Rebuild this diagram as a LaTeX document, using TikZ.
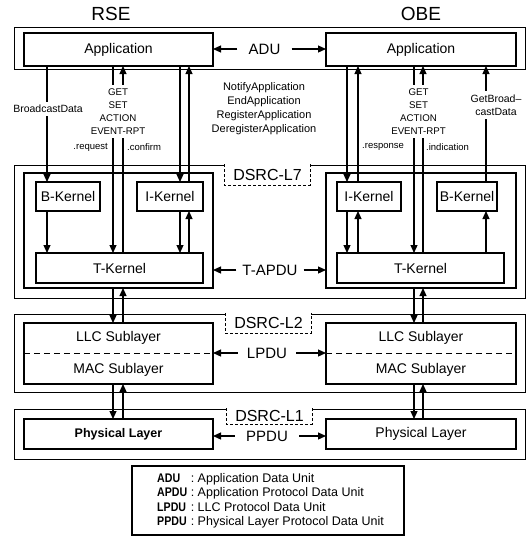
\documentclass[tikz,border=0pt]{standalone}
\usepackage{fontspec}
\usepackage{graphicx}
\setmainfont{Liberation Sans}
\usetikzlibrary{arrows.meta,calc}
\newcommand\myfs[2]{\fontsize{#1}{#2}\selectfont}
\newcommand\myabbr[1]{\scalebox{0.85}[1]{\bfseries #1}}
\tikzset{
  frame/.style={draw, line width=0.8pt, inner sep=0pt, outer sep=0pt},
  box/.style={draw, line width=1.6pt, fill=white, inner sep=0pt, outer sep=0pt, font=\myfs{14}{16}},
  txt/.style={inner sep=0pt, font=\myfs{14}{16}},
  arr/.style={line width=1.2pt, -{Triangle[length=8pt,width=7pt]}},
  lbl/.style={fill=white, inner xsep=2pt, inner ysep=4pt, align=center, font=\myfs{9.7}{13}},
  sm/.style={inner sep=0pt, font=\myfs{9.5}{11}},
  mid/.style={inner sep=0pt, align=center, font=\myfs{11}{14}},
  pdu/.style={inner ysep=0pt, font=\myfs{15}{17}},
  title/.style={inner sep=0pt, font=\myfs{19}{21}},
  dsrc/.style={fill=white, anchor=north, inner sep=0pt, minimum width=85pt, font=\myfs{16}{18}},
  dsrcb/.style={line width=0.7pt, dash pattern=on 3pt off 2pt},
  sep/.style={line width=1.4pt, dash pattern=on 6pt off 4pt}
}
\begin{document}
\begin{tikzpicture}[x=1pt,y=-1pt]
\useasboundingbox (0,0) rectangle (529,539);

% titles
\node[title] (rse) at (111,14) {RSE};
\node[title] (obe) at (421,14) {OBE};

% outer frames
\node[frame, minimum width=511pt, minimum height=42pt] (fApp) at (269.5,48) {};
\node[frame, minimum width=511pt, minimum height=133pt] (fL7) at (269.5,231.5) {};
\node[frame, minimum width=511pt, minimum height=78pt] (fL2) at (269.5,353) {};
\node[frame, minimum width=511pt, minimum height=50pt] (fL1) at (269.5,434) {};

% application boxes
\node[box, minimum width=189pt, minimum height=33pt] (appL) at (118.5,49.5) {Application};
\node[box, minimum width=190pt, minimum height=33pt] (appR) at (421,49.5) {Application};

% DSRC-L7
\node[box, minimum width=189pt, minimum height=115pt] (l7L) at (118.5,230.5) {};
\node[box, minimum width=190pt, minimum height=115pt] (l7R) at (421,230.5) {};
\node[box, minimum width=64pt, minimum height=29pt] (bkL) at (68,196.5) {B-Kernel};
\node[box, minimum width=66pt, minimum height=29pt] (ikL) at (170,196.5) {I-Kernel};
\node[box, minimum width=167pt, minimum height=30pt] (tkL) at (119.5,268) {T-Kernel};
\node[box, minimum width=64pt, minimum height=29pt] (ikR) at (369,196.5) {I-Kernel};
\node[box, minimum width=60pt, minimum height=29pt] (bkR) at (467,196.5) {B-Kernel};
\node[box, minimum width=167pt, minimum height=30pt] (tkR) at (420.5,268) {T-Kernel};

% DSRC-L2
\node[box, minimum width=189pt, minimum height=61pt] (l2L) at (118.5,353.5) {};
\node[box, minimum width=190pt, minimum height=61pt] (l2R) at (421,353.5) {};
\draw[sep] (l2L.west) -- (l2L.east);
\draw[sep] (l2R.west) -- (l2R.east);
\node[txt] (llcL) at (118.5,338) {LLC Sublayer};
\node[txt] (macL) at (118.5,370) {MAC Sublayer};
\node[txt] (llcR) at (421,338) {LLC Sublayer};
\node[txt] (macR) at (421,370) {MAC Sublayer};

% DSRC-L1
\node[box, minimum width=189pt, minimum height=30pt, font=\bfseries\myfs{12.5}{14}] (phL) at (118.5,434) {Physical Layer};
\node[box, minimum width=190pt, minimum height=30pt] (phR) at (421,434) {Physical Layer};

% DSRC labels
\node[dsrc, minimum height=21pt] (d7) at (267.5,164) {DSRC-L7};
\draw[dsrcb] (d7.north west) -- (d7.south west) -- (d7.south east) -- (d7.north east);
\node[dsrc, minimum height=20pt] (d2) at (268.5,313) {DSRC-L2};
\draw[dsrcb] (d2.north west) -- (d2.south west) -- (d2.south east) -- (d2.north east);
\node[dsrc, minimum height=16pt] (d1) at (269.5,408) {DSRC-L1};
\draw[dsrcb] (d1.north west) -- (d1.south west) -- (d1.south east) -- (d1.north east);

% peer PDUs
\node[pdu, inner xsep=11pt] (adu) at (264.5,49) {ADU};
\draw[arr] (adu.west) -- (appL.east |- adu.west);
\draw[arr] (adu.east) -- (appR.west |- adu.east);
\node[pdu, inner xsep=6pt] (tapdu) at (270,270) {T-APDU};
\draw[arr] (tapdu.west) -- (l7L.east |- tapdu.west);
\draw[arr] (tapdu.east) -- (l7R.west |- tapdu.east);
\node[pdu, inner xsep=9pt] (lpdu) at (267,353) {LPDU};
\draw[arr] (lpdu.west) -- (l2L.east |- lpdu.west);
\draw[arr] (lpdu.east) -- (l2R.west |- lpdu.east);
\node[pdu, inner xsep=11pt] (ppdu) at (267,436) {PPDU};
\draw[arr] (ppdu.west) -- (phL.east |- ppdu.west);
\draw[arr] (ppdu.east) -- (phR.west |- ppdu.east);

% columns
\coordinate (cBL) at (47,0);
\coordinate (cQL) at (113,0);
\coordinate (cCL) at (123,0);
\coordinate (cIL) at (180,0);
\coordinate (cJL) at (189,0);
\coordinate (cIR) at (347,0);
\coordinate (cJR) at (358,0);
\coordinate (cQR) at (414,0);
\coordinate (cCR) at (423,0);
\coordinate (cBR) at (486,0);

% RSE connectors
\draw[arr] (appL.south -| cBL) -- (bkL.north -| cBL);
\node[lbl, inner ysep=3pt, font=\myfs{10.5}{12}] (bdata) at (48,109) {BroadcastData};
\draw[arr] (appL.south -| cQL) -- (tkL.north -| cQL);
\draw[arr] (tkL.north -| cCL) -- (appL.south -| cCL);
\node[lbl] (getL) at (118,111.5) {GET\\SET\\ACTION\\EVENT-RPT};
\node[sm, anchor=east] (reqL) at (108,147) {.request};
\node[sm, anchor=west] (cnfL) at (127,147) {.confirm};
\draw[arr] (appL.south -| cIL) -- (ikL.north -| cIL);
\draw[arr] (ikL.north -| cJL) -- (appL.south -| cJL);
\draw[arr] (bkL.south -| cBL) -- (tkL.north -| cBL);
\draw[arr] (ikL.south -| cIL) -- (tkL.north -| cIL);
\draw[arr] (tkL.north -| cJL) -- (ikL.south -| cJL);
\draw[arr] (l7L.south -| cQL) -- (l2L.north -| cQL);
\draw[arr] (l2L.north -| cCL) -- (l7L.south -| cCL);
\draw[arr] (l2L.south -| cQL) -- (phL.north -| cQL);
\draw[arr] (phL.north -| cCL) -- (l2L.south -| cCL);

% middle primitives
\node[mid] (prim) at (264,109) {NotifyApplication\\EndApplication\\RegisterApplication\\DeregisterApplication};

% OBE connectors
\draw[arr] (appR.south -| cIR) -- (ikR.north -| cIR);
\draw[arr] (ikR.north -| cJR) -- (appR.south -| cJR);
\draw[arr] (appR.south -| cQR) -- (tkR.north -| cQR);
\draw[arr] (tkR.north -| cCR) -- (appR.south -| cCR);
\node[lbl] (getR) at (418.5,111.5) {GET\\SET\\ACTION\\EVENT-RPT};
\node[sm, anchor=west] (rspR) at (362,147) {.response};
\node[sm, anchor=west] (indR) at (426,147) {.indication};
\draw[arr] (bkR.north -| cBR) -- (appR.south -| cBR);
\node[lbl, font=\myfs{10.5}{13}] (gbd) at (496,105) {GetBroad--\\castData};
\draw[arr] (ikR.south -| cIR) -- (tkR.north -| cIR);
\draw[arr] (tkR.north -| cJR) -- (ikR.south -| cJR);
\draw[arr] (tkR.north -| cBR) -- (bkR.south -| cBR);
\draw[arr] (l7R.south -| cQR) -- (l2R.north -| cQR);
\draw[arr] (l2R.north -| cCR) -- (l7R.south -| cCR);
\draw[arr] (l2R.south -| cQR) -- (phR.north -| cQR);
\draw[arr] (phR.north -| cCR) -- (l2R.south -| cCR);

% legend
\node[draw, line width=1.2pt, minimum width=272pt, minimum height=69pt, inner sep=0pt] (leg) at (268,500.5) {};
\node[anchor=west, inner sep=0pt, font=\myfs{12.5}{14.6}] (legtxt) at (157,501)
  {\begin{tabular}{@{}l@{\ :\ }l@{}}
   \myabbr{ADU} & Application Data Unit\\
   \myabbr{APDU} & Application Protocol Data Unit\\
   \myabbr{LPDU} & LLC Protocol Data Unit\\
   \myabbr{PPDU} & Physical Layer Protocol Data Unit
   \end{tabular}};
\end{tikzpicture}
\end{document}
